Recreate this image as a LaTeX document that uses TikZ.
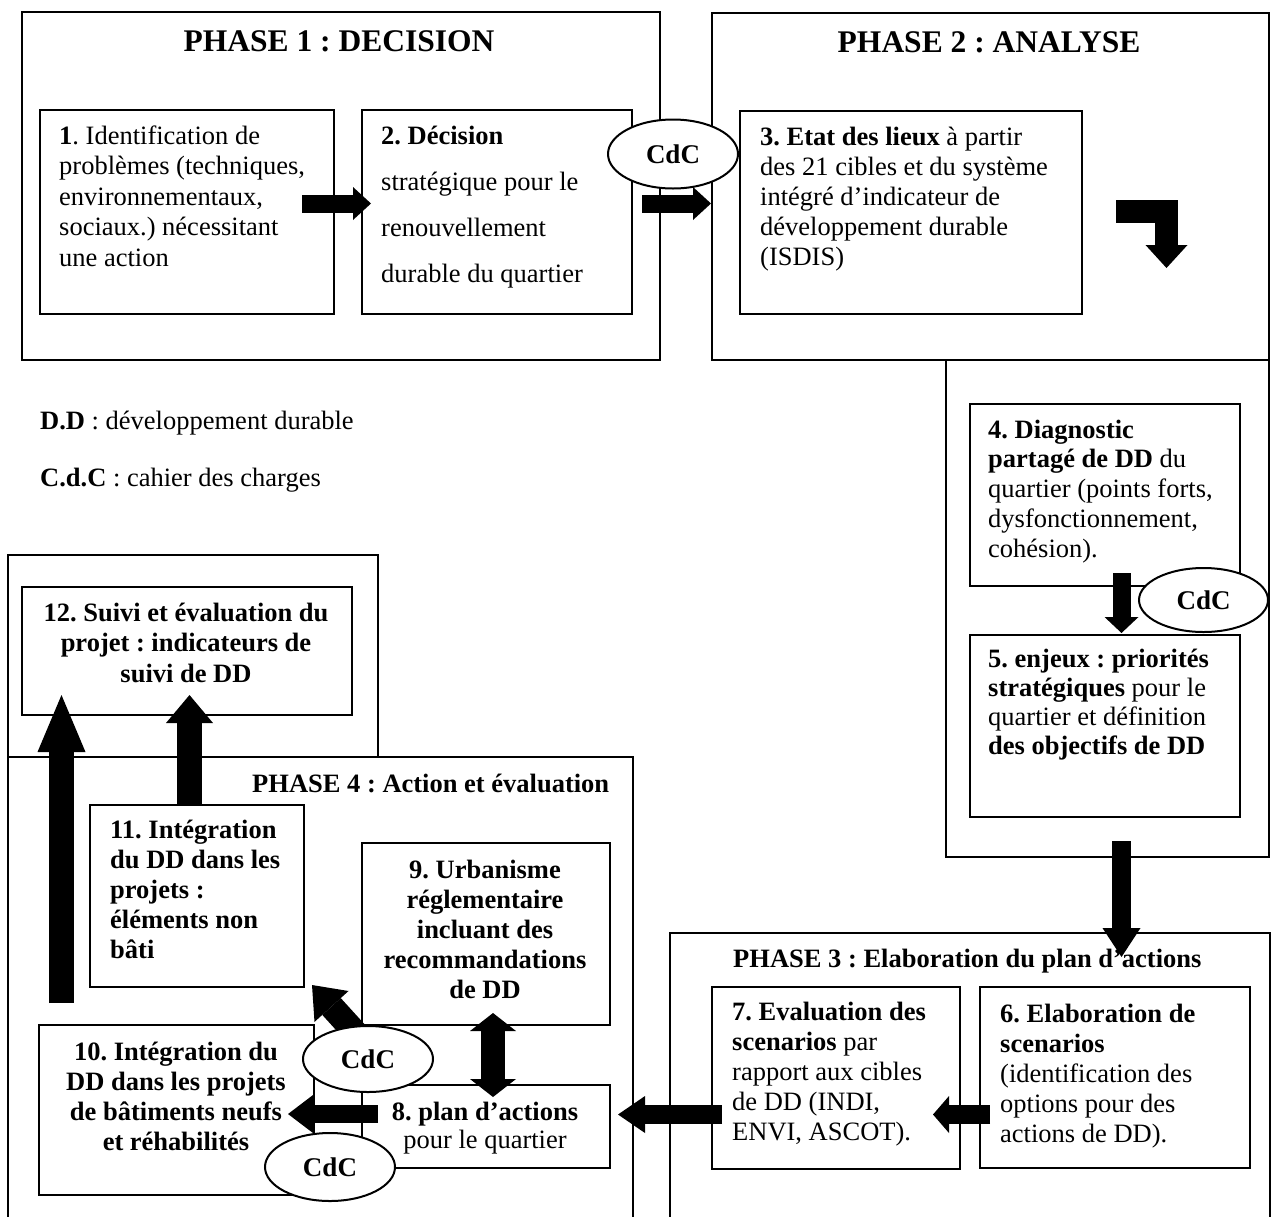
\documentclass[tikz,border=0pt]{standalone}
\usepackage{fontspec}
\setmainfont{Liberation Serif}
\usetikzlibrary{shapes.geometric,arrows.meta}
\frenchspacing

% body text at a given line pitch
\newcommand{\bodyat}[1]{\fontsize{26.5}{#1}\selectfont}

\begin{document}
\begin{tikzpicture}[x=1pt,y=-1pt,
  line join=miter,
  box/.style={draw, line width=2pt, inner sep=0pt, anchor=north west},
  lefttext/.style={inner sep=0pt, anchor=north west, align=left},
  midtext/.style={inner sep=0pt, anchor=north, align=center},
  phasetitle/.style={inner sep=0pt, anchor=base, font=\fontsize{31.5}{36}\selectfont\bfseries},
  legend/.style={inner sep=0pt, anchor=base west, font=\bodyat{30}},
  cdc/.style={ellipse, draw, line width=2pt, fill=white, inner sep=0pt,
              font=\fontsize{27}{30}\selectfont\bfseries},
  blockarrow/.style n args={3}{line width=#1pt,
      -{Triangle[length=#3pt,width=#2pt,line width=0pt]}},
  blockboth/.style n args={3}{line width=#1pt,
      {Triangle[length=#3pt,width=#2pt,line width=0pt]}-{Triangle[length=#3pt,width=#2pt,line width=0pt]}},
]
\useasboundingbox (0,0) rectangle (1271,1216);
\fill[white] (0,0) rectangle (1271,1216);
\clip (0,0) rectangle (1271,1216);

% ---------- phase frames ----------
\node[box, minimum width=638pt, minimum height=348pt] (ph1) at (21,11) {};
\node[box, minimum width=557pt, minimum height=347pt] (ph2) at (711,12) {};
\node[box, minimum width=323pt, minimum height=497pt] (ph2x) at (945,359) {};
\node[box, minimum width=600pt, minimum height=320pt] (ph3) at (669,932) {};
\node[box, minimum width=625pt, minimum height=480pt] (ph4) at (7,756) {};
\node[box, minimum width=370pt, minimum height=202pt] (ph4top) at (7,554) {};

% ---------- step boxes ----------
\node[box, minimum width=294pt, minimum height=204pt] (b1) at (39,109) {};
\node[box, minimum width=270pt, minimum height=204pt] (b2) at (361,109) {};
\node[box, minimum width=342pt, minimum height=203pt] (b3) at (739,110) {};
\node[box, minimum width=270pt, minimum height=182pt] (b4) at (969,403) {};
\node[box, minimum width=270pt, minimum height=182pt] (b5) at (969,634) {};
\node[box, minimum width=270pt, minimum height=181pt] (b6) at (979,986) {};
\node[box, minimum width=248pt, minimum height=182pt] (b7) at (711,986) {};
\node[box, minimum width=248pt, minimum height=83pt]  (b8) at (361,1084) {};
\node[box, minimum width=248pt, minimum height=182pt] (b9) at (361,842) {};
\node[box, minimum width=275pt, minimum height=170pt] (b10) at (38,1024) {};
\node[box, minimum width=214pt, minimum height=182pt] (b11) at (89,804) {};
\node[box, minimum width=330pt, minimum height=128pt] (b12) at (21,586) {};

% ---------- titles ----------
\node[phasetitle] (h1) at (339,51) {PHASE 1 : DECISION};
\node[phasetitle] (h2) at (989,52) {PHASE 2 : ANALYSE};
\node[legend, font=\bodyat{30}\bfseries] (h3) at (733,967) {PHASE 3 : Elaboration du plan d’actions};
\node[legend, font=\bodyat{30}\bfseries] (h4) at (252,792) {PHASE 4 : Action et évaluation};

% ---------- legend ----------
\node[legend] (l1) at (40,429) {\textbf{D.D} : développement durable};
\node[legend] (l2) at (40,486) {\textbf{C.d.C} : cahier des charges};

% ---------- box texts ----------
\node[lefttext, font=\bodyat{30.5}] (t1) at (59,122.65)
  {\strut\textbf{1}. Identification de\\problèmes (techniques,\\environnementaux,\\sociaux.) nécessitant\\une action};
\node[lefttext, font=\bodyat{46}] (t2) at (381,111.8)
  {\strut\textbf{2. Décision}\\stratégique pour le\\renouvellement\\durable du quartier};
\node[lefttext, font=\bodyat{30}] (t3) at (760,124)
  {\strut\textbf{3. Etat des lieux} à partir\\des 21 cibles et du système\\intégré d’indicateur de\\développement durable\\(ISDIS)};
\node[lefttext, font=\bodyat{29.7}] (t4) at (988,417.2)
  {\strut\textbf{4. Diagnostic}\\\textbf{partagé de DD} du\\quartier (points forts,\\dysfonctionnement,\\cohésion).};
\node[lefttext, font=\bodyat{29}] (t5) at (988,646.7)
  {\strut\textbf{5. enjeux : priorités}\\\textbf{stratégiques} pour le\\quartier et définition\\\textbf{des objectifs de DD}};
\node[lefttext, font=\bodyat{30}] (t6) at (1000,1001)
  {\strut\textbf{6. Elaboration de}\\\textbf{scenarios}\\(identification des\\options pour des\\actions de DD).};
\node[lefttext, font=\bodyat{30}] (t7) at (732,999)
  {\strut\textbf{7. Evaluation des}\\\textbf{scenarios} par\\rapport aux cibles\\de DD (INDI,\\ENVI, ASCOT).};
\node[midtext, font=\bodyat{28}] (t8) at (485,1100.4)
  {\strut\textbf{8. plan d’actions}\\pour le quartier};
\node[midtext, font=\bodyat{30}\bfseries] (t9) at (485,857)
  {\strut 9. Urbanisme\\réglementaire\\incluant des\\recommandations\\de DD};
\node[midtext, font=\bodyat{30}\bfseries] (t10) at (176,1039)
  {\strut 10. Intégration du\\DD dans les projets\\de bâtiments neufs\\et réhabilités};
\node[lefttext, font=\bodyat{30}\bfseries] (t11) at (110,817)
  {\strut 11. Intégration\\du DD dans les\\projets :\\éléments non\\bâti};
\node[midtext, font=\bodyat{30.5}\bfseries] (t12) at (186,599.65)
  {\strut 12. Suivi et évaluation du\\projet : indicateurs de\\suivi de DD};

% ---------- block arrows ----------
\coordinate (a12s) at (302,203.5);   \coordinate (a12e) at (371,203.5);
\coordinate (a23s) at (642,203.5);   \coordinate (a23e) at (711,203.5);
\coordinate (bent0) at (1116,211);   \coordinate (bent1) at (1166.5,211);
\coordinate (bent2) at (1166.5,268);
\coordinate (a45s) at (1121.5,573);  \coordinate (a45e) at (1121.5,633);
\coordinate (a53s) at (1121.5,841);  \coordinate (a53e) at (1121.5,957);
\coordinate (a67s) at (990,1114.5);  \coordinate (a67e) at (933,1114.5);
\coordinate (a78s) at (722,1114.5);  \coordinate (a78e) at (618,1114.5);
\coordinate (a810s) at (378,1114);   \coordinate (a810e) at (288,1114);
\coordinate (a98s) at (493,1013);    \coordinate (a98e) at (493,1097);
\coordinate (a911s) at (362,1040);   \coordinate (a911e) at (312,985);
\coordinate (a1112s) at (189.5,804); \coordinate (a1112e) at (189.5,695);
\coordinate (a412s) at (61.5,1003);  \coordinate (a412e) at (61.5,695);

\draw[blockarrow={18}{33}{18}] (a12s) -- (a12e);
\draw[blockarrow={18}{33}{18}] (a23s) -- (a23e);
\draw[blockarrow={23}{42}{23}] (bent0) -- (bent1) -- (bent2);
\draw[blockarrow={18}{34}{16}] (a45s) -- (a45e);
\draw[blockarrow={19}{38}{29}] (a53s) -- (a53e);
\draw[blockarrow={19}{37}{16}] (a67s) -- (a67e);
\draw[blockarrow={19}{37}{27}] (a78s) -- (a78e);
\draw[blockarrow={18}{38}{25}] (a810s) -- (a810e);
\draw[blockboth={24}{46}{18}] (a98s) -- (a98e);
\draw[blockarrow={25}{46}{29}] (a911s) -- (a911e);
\draw[blockarrow={25}{47}{28}] (a1112s) -- (a1112e);
\draw[blockarrow={25}{48}{57}] (a412s) -- (a412e);

% ---------- specification (CdC) marks ----------
\node[cdc, minimum width=130pt, minimum height=69pt] (c1) at (673,154) {CdC};
\node[cdc, minimum width=129pt, minimum height=64pt] (c2) at (1203.5,600) {CdC};
\node[cdc, minimum width=130pt, minimum height=66pt] (c3) at (368,1059) {CdC};
\node[cdc, minimum width=130pt, minimum height=68pt] (c4) at (330,1167) {CdC};
\end{tikzpicture}
\end{document}
